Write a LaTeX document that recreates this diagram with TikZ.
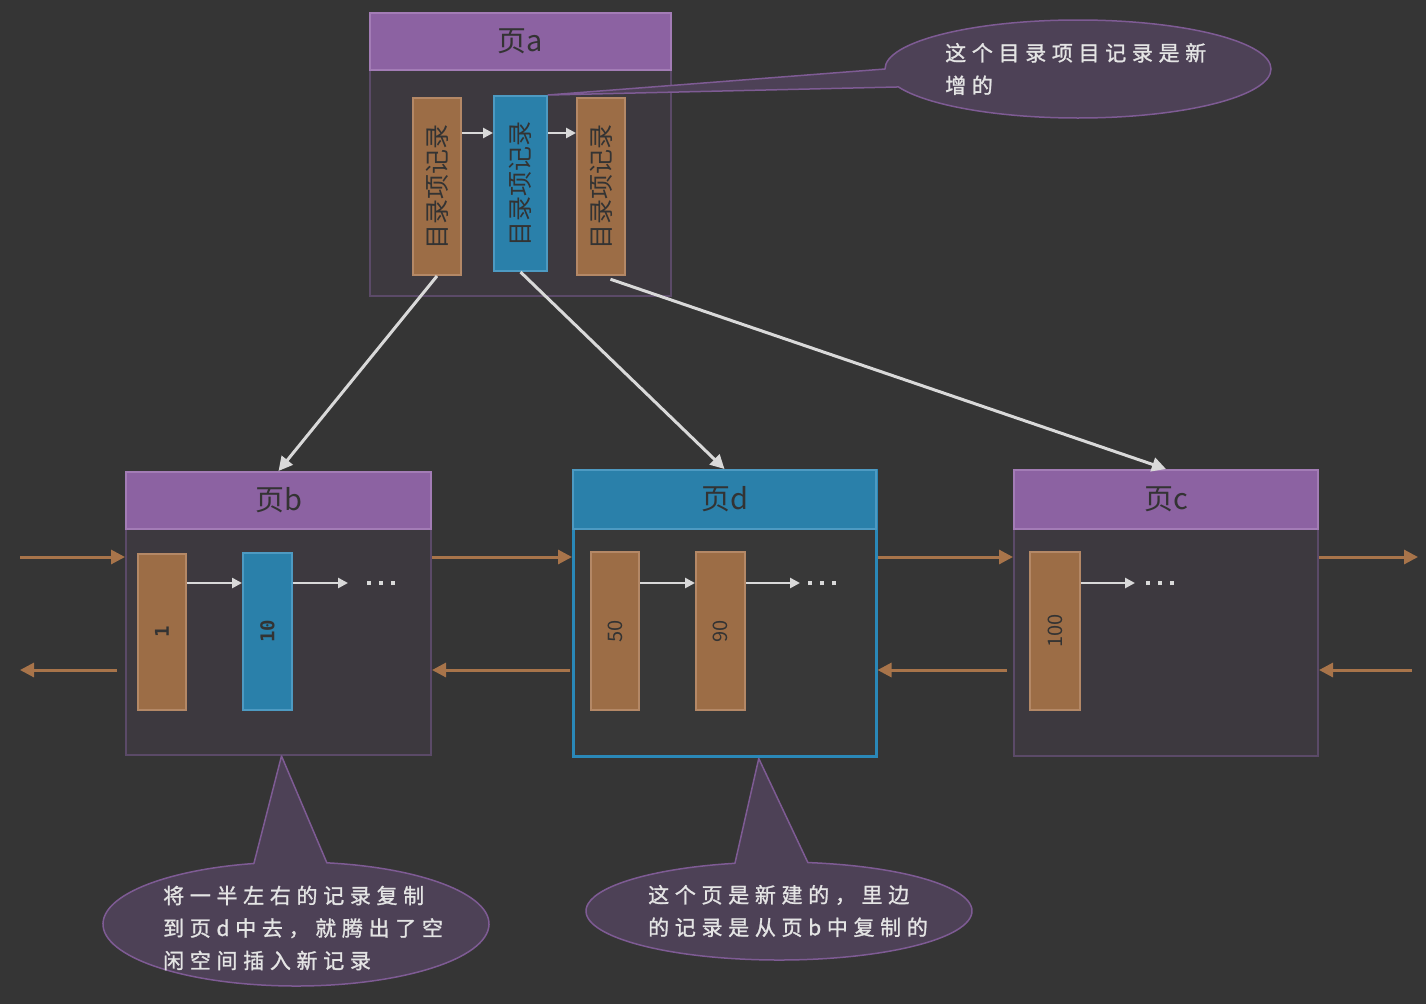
\documentclass[tikz,border=0pt]{standalone}
\usepackage{fontspec}
\usepackage{graphicx}
\usetikzlibrary{arrows.meta,calc}
\newfontfamily\cjk{Noto Sans CJK SC}
\newfontfamily\cjkls[LetterSpace=27,FakeBold=1.2]{Noto Sans CJK SC}
\newfontfamily\monofnt{DejaVu Sans Mono}
\definecolor{bgc}{HTML}{353535}
\definecolor{bodyfill}{HTML}{3D393F}
\definecolor{bodyborder}{HTML}{5B4A68}
\definecolor{dbodyfill}{HTML}{383838}
\definecolor{dborder}{HTML}{2A88B8}
\definecolor{headfill}{HTML}{8C62A2}
\definecolor{headborder}{HTML}{A37CB6}
\definecolor{bluefill}{HTML}{2A80AA}
\definecolor{blueborder}{HTML}{4D9AC2}
\definecolor{brownfill}{HTML}{9C6D46}
\definecolor{brownborder}{HTML}{B48866}
\definecolor{orangec}{HTML}{A8744A}
\definecolor{whitec}{HTML}{D9D9D9}
\definecolor{callfill}{HTML}{4D4156}
\definecolor{callborder}{HTML}{7E5B94}
\definecolor{darktext}{HTML}{333333}
\definecolor{calltextc}{HTML}{E4E4E4}
\begin{document}
\begin{tikzpicture}[x=1pt,y=1pt,
  pagebody/.style={rectangle, draw=bodyborder, fill=bodyfill, line width=2pt, inner sep=0pt, anchor=north west},
  pagehead/.style={rectangle, draw=headborder, fill=headfill, line width=2pt, inner sep=0pt, anchor=north west, text=darktext, font=\cjk\fontsize{29}{31}\selectfont},
  recbrown/.style={rectangle, draw=brownborder, fill=brownfill, line width=2pt, inner sep=0pt, anchor=north west, text=darktext},
  recblue/.style={rectangle, draw=blueborder, fill=bluefill, line width=2pt, inner sep=0pt, anchor=north west, text=darktext},
  warrow/.style={draw=whitec, line width=3pt, -{Triangle[length=14pt,width=14pt]}},
  wsmall/.style={draw=whitec, line width=2.5pt, -{Triangle[length=10pt,width=10pt]}},
  oarrow/.style={draw=orangec, line width=3pt, -{Triangle[length=14pt,width=14pt]}},
  callout/.style={fill=callfill, draw=callborder, line width=1.5pt, line join=round},
  calltext/.style={anchor=west, align=left, inner sep=0pt, text=calltextc, font=\cjkls\fontsize{21}{32.5}\selectfont},
  dotsnode/.style={text=whitec, inner sep=0pt}
]
\fill[bgc] (0,0) rectangle (1426,-1004);
\useasboundingbox (0,0) rectangle (1426,-1004);

% ---------- page a ----------
\node[pagebody, minimum width=301pt, minimum height=283pt] (pa) at (369,-12) {};
\node[pagehead, minimum width=301pt, minimum height=57pt] (pah) at (369,-12) {页a};
\node[recbrown, minimum width=48pt, minimum height=177pt] (r1) at (412,-97) {\rotatebox{90}{\cjk\fontsize{25}{27}\selectfont 目录项记录}};
\node[recblue, minimum width=53pt, minimum height=175pt] (r2) at (493,-95) {\rotatebox{90}{\cjk\fontsize{25}{27}\selectfont 目录项记录}};
\node[recbrown, minimum width=48pt, minimum height=177pt] (r3) at (576,-97) {\rotatebox{90}{\cjk\fontsize{25}{27}\selectfont 目录项记录}};
\coordinate (ya) at (0,-133);
\draw[wsmall] (r1.east |- ya) -- (r2.west |- ya);
\draw[wsmall] (r2.east |- ya) -- (r3.west |- ya);

% ---------- page b ----------
\node[pagebody, minimum width=305pt, minimum height=283pt] (pb) at (125,-471) {};
\node[pagehead, minimum width=305pt, minimum height=57pt] (pbh) at (125,-471) {页b};
\node[recbrown, minimum width=48pt, minimum height=156pt] (rb1) at (137,-553) {\rotatebox{90}{\monofnt\bfseries\fontsize{19}{21}\selectfont 1}};
\node[recblue, minimum width=49pt, minimum height=157pt] (rb2) at (242,-552) {\rotatebox{90}{\monofnt\bfseries\fontsize{19}{21}\selectfont 10}};
\coordinate (yb) at (0,-583);
\coordinate (eb) at (348,-583);
\draw[wsmall] (rb1.east |- yb) -- (rb2.west |- yb);
\draw[wsmall] (rb2.east |- yb) -- (eb);
\node[dotsnode] (db) at (381,-583) {\rule{4pt}{4pt}\hspace{8pt}\rule{4pt}{4pt}\hspace{8pt}\rule{4pt}{4pt}};

% ---------- page d ----------
\node[pagebody, draw=dborder, fill=dbodyfill, line width=2.5pt, minimum width=303pt, minimum height=286pt] (pd) at (572,-469) {};
\node[pagehead, fill=bluefill, draw=blueborder, minimum width=303pt, minimum height=59pt] (pdh) at (572,-469) {页d};
\node[recbrown, minimum width=48pt, minimum height=158pt] (rd1) at (590,-551) {\rotatebox{90}{\cjk\fontsize{20}{22}\selectfont 50}};
\node[recbrown, minimum width=49pt, minimum height=158pt] (rd2) at (695,-551) {\rotatebox{90}{\cjk\fontsize{20}{22}\selectfont 90}};
\coordinate (ed) at (800,-583);
\draw[wsmall] (rd1.east |- yb) -- (rd2.west |- yb);
\draw[wsmall] (rd2.east |- yb) -- (ed);
\node[dotsnode] (dd) at (822,-583) {\rule{4pt}{4pt}\hspace{8pt}\rule{4pt}{4pt}\hspace{8pt}\rule{4pt}{4pt}};

% ---------- page c ----------
\node[pagebody, minimum width=304pt, minimum height=286pt] (pc) at (1013,-469) {};
\node[pagehead, minimum width=304pt, minimum height=59pt] (pch) at (1013,-469) {页c};
\node[recbrown, minimum width=50pt, minimum height=158pt] (rc1) at (1029,-551) {\rotatebox{90}{\cjk\fontsize{20}{22}\selectfont 100}};
\coordinate (ec) at (1135,-583);
\draw[wsmall] (rc1.east |- yb) -- (ec);
\node[dotsnode] (dc) at (1160,-583) {\rule{4pt}{4pt}\hspace{8pt}\rule{4pt}{4pt}\hspace{8pt}\rule{4pt}{4pt}};

% ---------- links between leaf pages ----------
\coordinate (ytop) at (0,-557);
\coordinate (ybot) at (0,-670);
\coordinate (inL) at (20,-557);
\coordinate (outL) at (20,-670);
\coordinate (outR) at (1418,-557);
\coordinate (inR) at (1412,-670);
\draw[oarrow] (inL) -- (pb.west |- ytop);
\draw[oarrow] (pb.east |- ytop) -- (pd.west |- ytop);
\draw[oarrow] (pd.east |- ytop) -- (pc.west |- ytop);
\draw[oarrow] (pc.east |- ytop) -- (outR);
\draw[oarrow, shorten <=8pt] (pb.west |- ybot) -- (outL);
\draw[oarrow, shorten <=2pt] (pd.west |- ybot) -- (pb.east |- ybot);
\draw[oarrow, shorten <=6pt] (pc.west |- ybot) -- (pd.east |- ybot);
\draw[oarrow] (inR) -- (pc.east |- ybot);

% ---------- pointers from page a ----------
\draw[warrow] (r1.south) -- (pbh.north);
\draw[warrow] (r2.south) -- (pdh.north);
\draw[warrow, shorten <=10pt] (r3.south) -- (pch.north);

% ---------- callouts ----------
\path[callout] (r2.north east) -- ($(1078,-69)+(180:193 and 49)$)
  arc[start angle=180, end angle=-158.5, x radius=193, y radius=49] -- cycle;
\node[calltext] (ta) at (945,-69) {这个目录项目记录是新\\增的};

\path[callout] ($(pb.south)+(3,0)$) -- ($(296,-924)+(80.8:193 and 62)$)
  arc[start angle=80.8, end angle=-257.4, x radius=193, y radius=62] -- cycle;
\node[calltext] (tb) at (163,-928) {将一半左右的记录复制\\到页d中去，就腾出了空\\闲空间插入新记录};

\path[callout] ($(pd.south)+(34,-1)$) -- ($(779,-911)+(81.4:193 and 49)$)
  arc[start angle=81.4, end angle=-256.8, x radius=193, y radius=49] -- cycle;
\node[calltext] (td) at (648,-911) {这个页是新建的，里边\\的记录是从页b中复制的};
\end{tikzpicture}
\end{document}
